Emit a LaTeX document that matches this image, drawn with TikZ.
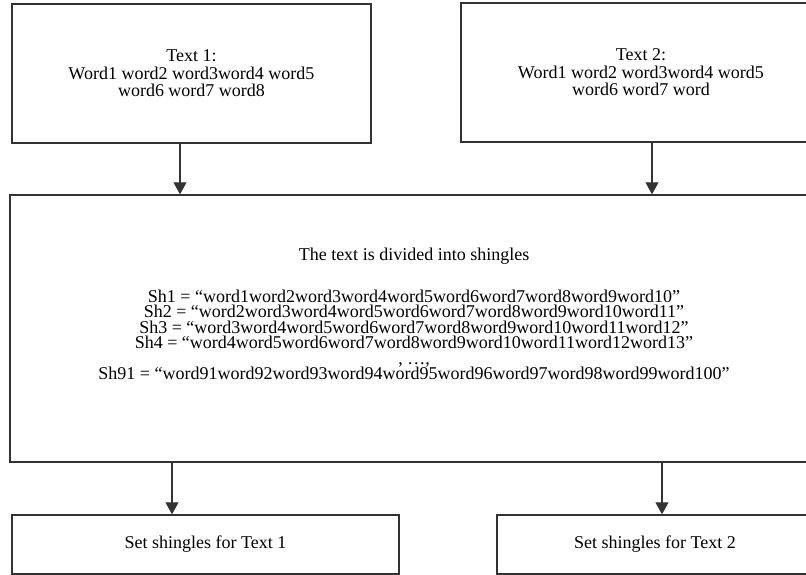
\documentclass[tikz,border=0pt]{standalone}
\usepackage{fontspec}
\setmainfont{Liberation Serif}
\usetikzlibrary{arrows.meta}
\definecolor{boxgray}{RGB}{51,51,51}

\begin{document}
\begin{tikzpicture}[x=1pt,y=-1pt,line width=1.3pt,
  box/.style={draw=boxgray,rectangle,inner sep=0pt,align=center,
    font=\fontsize{18}{17.5}\selectfont},
  flow/.style={draw=boxgray,line width=1.1pt,-{Triangle[width=13pt,length=12pt]}}]
  \path[use as bounding box] (0,0) rectangle (806,575);
  \clip (0,0) rectangle (806,575);

  % Top row: the two input texts.
  \node[box,minimum width=359pt,minimum height=139pt] (text1) at (191.5,73.5)
    {Text 1:\\Word1 word2 word3word4 word5\\word6 word7 word8};
  \node[box,minimum width=360pt,minimum height=139pt] (text2) at (641,72.5)
    {Text 2:\\Word1 word2 word3word4 word5\\word6 word7 word};

  % Middle: splitting into shingles.
  \node[box,minimum width=810pt,minimum height=267pt] (split) at (415,328.5) {};
  \node[align=center,inner sep=0pt,font=\fontsize{18}{15.5}\selectfont] (splittext) at (414,314)
    {The text is divided into shingles\\[24.5pt]
     Sh1 = “word1word2word3word4word5word6word7word8word9word10”\\
     Sh2 = “word2word3word4word5word6word7word8word9word10word11”\\
     Sh3 = “word3word4word5word6word7word8word9word10word11word12”\\
     Sh4 = “word4word5word6word7word8word9word10word11word12word13”\\
     , …,\\
     Sh91 = “word91word92word93word94word95word96word97word98word99word100”};

  % Bottom row: the resulting sets.
  \node[box,minimum width=387pt,minimum height=59pt] (set1) at (205.5,544.5)
    {Set shingles for Text 1};
  \node[box,minimum width=316pt,minimum height=59pt] (set2) at (655,544.5)
    {Set shingles for Text 2};

  \draw[flow] ([xshift=-11.5pt]text1.south) -- ([xshift=-11.5pt]text1.south |- split.north);
  \draw[flow] ([xshift=11pt]text2.south) -- ([xshift=11pt]text2.south |- split.north);
  \draw[flow] ([xshift=-33.5pt]set1.north |- split.south) -- ([xshift=-33.5pt]set1.north);
  \draw[flow] ([xshift=7pt]set2.north |- split.south) -- ([xshift=7pt]set2.north);
\end{tikzpicture}
\end{document}
